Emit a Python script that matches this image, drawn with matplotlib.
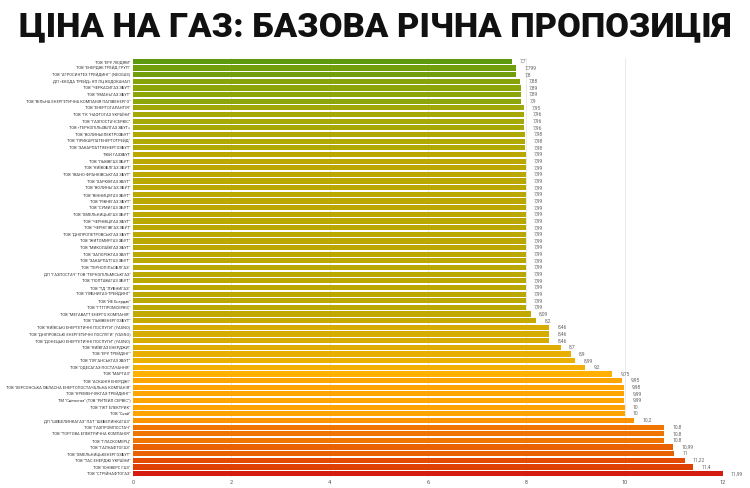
import matplotlib
matplotlib.use("Agg")
import matplotlib.pyplot as plt
from matplotlib.colors import LinearSegmentedColormap
import numpy as np

companies = [
    'ТОВ "ЕРУ ЛЮДЯМ"',
    'ТОВ "ЕНЕРДЖІ ТРЕЙД ГРУП"',
    'ТОВ "АГРОСИНТЕЗ ТРЕЙДИНГ" (NEOGAS)',
    'ДП «ЕКОДА ТРЕЙД» КП ПЦ ВОДОКАНАЛ',
    'ТОВ "ЧЕРКАСИГАЗ ЗБУТ"',
    'ТОВ "УМАНЬГАЗ ЗБУТ"',
    'ТОВ "ВІЛЬНА ЕНЕРГЕТИЧНА КОМПАНІЯ ПАЛІВЕНЕРГО"',
    'ТОВ "ЕНЕРГОГАРАНТІЯ"',
    'ТОВ "ГК "НАФТОГАЗ УКРАЇНИ"',
    'ТОВ "ГАЗПОСТАЧСЕРВІС"',
    'ТОВ «ТЕРНОПІЛЬОБЛГАЗ ЗБУТ»',
    'ТОВ "ВОЛИНЬЕЛЕКТРОЗБУТ"',
    'ТОВ "ПРИКАРПАТЕНЕРГОТРЕЙД"',
    'ТОВ "ЗАКАРПАТТЯЕНЕРГОЗБУТ"',
    'ТВІЙ ГАЗЗБУТ',
    'ТОВ "ЛЬВІВГАЗ ЗБУТ"',
    'ТОВ "КИЇВОБЛГАЗ ЗБУТ"',
    'ТОВ "ІВАНО-ФРАНКІВСЬКГАЗ ЗБУТ"',
    'ТОВ "ХАРКІВГАЗ ЗБУТ"',
    'ТОВ "ВОЛИНЬГАЗ ЗБУТ"',
    'ТОВ "ВІННИЦЯГАЗ ЗБУТ"',
    'ТОВ "РІВНЕГАЗ ЗБУТ"',
    'ТОВ "СУМИГАЗ ЗБУТ"',
    'ТОВ "ХМЕЛЬНИЦЬКГАЗ ЗБУТ"',
    'ТОВ "ЧЕРНІВЦІГАЗ ЗБУТ"',
    'ТОВ "ЧЕРНІГІВГАЗ ЗБУТ"',
    'ТОВ "ДНІПРОПЕТРОВСЬКГАЗ ЗБУТ"',
    'ТОВ "ЖИТОМИРГАЗ ЗБУТ"',
    'ТОВ "МИКОЛАЇВГАЗ ЗБУТ"',
    'ТОВ "ЗАПОРІЖГАЗ ЗБУТ"',
    'ТОВ "ЗАКАРПАТГАЗ ЗБУТ"',
    'ТОВ "ТЕРНОПІЛЬОБЛГАЗ"',
    'ДП "ГАЗПОСТАЧ" ТОВ "ТЕРНОПІЛЬМІСЬКГАЗ"',
    'ТОВ "ПОЛТАВАГАЗ ЗБУТ"',
    'ТОВ "ТД "ЛУБНИГАЗ"',
    'ТОВ "ЛУБНИГАЗ-ТРЕЙДИНГ"',
    'ТОВ "ЙЕ Енерджі"',
    'ТОВ "ГТТПРОМСЕРВІС"',
    'ТОВ "МЕГАВАТТ ЕНЕРГО КОМПАНІЯ"',
    'ТОВ "ЛЬВІВЕНЕРГОЗБУТ"',
    'ТОВ "КИЇВСЬКІ ЕНЕРГЕТИЧНІ ПОСЛУГИ" (YASNO)',
    'ТОВ "ДНІПРОВСЬКІ ЕНЕРГЕТИЧНІ ПОСЛУГИ" (YASNO)',
    'ТОВ "ДОНЕЦЬКІ ЕНЕРГЕТИЧНІ ПОСЛУГИ" (YASNO)',
    'ТОВ "КИЇВГАЗ ЕНЕРДЖИ"',
    'ТОВ "ЕРУ ТРЕЙДІНГ"',
    'ТОВ "ЛУГАНСЬКГАЗ ЗБУТ"',
    'ТОВ "ОДЕСАГАЗ-ПОСТАЧАННЯ"',
    'ТОВ "МАРГАЗ"',
    'ТОВ "АСКАНІЯ ЕНЕРДЖІ"',
    'ТОВ "ХЕРСОНСЬКА ОБЛАСНА ЕНЕРГОПОСТАЧАЛЬНА КОМПАНІЯ"',
    'ТОВ "КРЕМЕНЧУКГАЗ-ТРЕЙДИНГ"',
    'ТМ "Світлогаз" (ТОВ "РИТЕЙЛ СЕРВІС")',
    'ТОВ "ПКТ ЕЛЕКТРИК"',
    'ТОВ "Скай"',
    'ДП "ШЕБЕЛИНКАГАЗ" ПАТ "ШЕБЕЛИНКАГАЗ"',
    'ТОВ "ГАЗПРОМПОСТАЧ"',
    'ТОВ "ТОРГОВА ЕЛЕКТРИЧНА КОМПАНІЯ"',
    'ТОВ "ГЛАСКОМЕРЦ"',
    'ТОВ "ГАЛНАФТОГАЗ"',
    'ТОВ "ХМЕЛЬНИЦЬКЕНЕРГОЗБУТ"',
    'ТОВ "ТАС ЕНЕРДЖІ УКРАЇНИ"',
    'ТОВ "ЮНІВЕРС ГАЗ"',
    'ТОВ "СТРІЙНАФТОГАЗ"',
]

prices = [
    7.7, 7.799, 7.8, 7.88, 7.89, 7.89, 7.9, 7.95, 7.96, 7.96, 7.96,
    7.98, 7.98, 7.98,
    7.99, 7.99, 7.99, 7.99, 7.99, 7.99, 7.99, 7.99, 7.99, 7.99, 7.99, 7.99,
    7.99, 7.99, 7.99, 7.99, 7.99, 7.99, 7.99, 7.99, 7.99, 7.99, 7.99, 7.99,
    8.09, 8.2, 8.46, 8.46, 8.46, 8.7, 8.9, 8.99, 9.2, 9.75, 9.95, 9.98,
    9.99, 9.99, 10, 10, 10.2, 10.8, 10.8, 10.8, 10.99, 11, 11.22, 11.4, 11.99,
]

x_ticks = [0, 2, 4, 6, 8, 10, 12]

# колірна шкала за ціною (зелений -> оливковий -> жовтий -> помаранчевий -> червоний)
stops = [(7.7, "#5c990c"), (7.85, "#7fa30a"), (7.95, "#a5a805"), (7.99, "#bca800"),
         (8.46, "#d6ac00"), (9.2, "#f4b000"), (9.75, "#ffb000"), (10.0, "#ffa300"),
         (10.2, "#fc9400"), (10.8, "#f07400"), (11.22, "#e24c00"), (11.99, "#d41c10")]
vmin, vmax = stops[0][0], stops[-1][0]
cmap = LinearSegmentedColormap.from_list(
    "gas", [((v - vmin) / (vmax - vmin), c) for v, c in stops])

label_font = ["Liberation Sans Narrow", "Roboto", "DejaVu Sans"]

fig = plt.figure(figsize=(7.5, 4.88), dpi=100)
ax = fig.add_axes([0.1773, 0.0225, 0.7867, 0.8586])

y = np.arange(len(prices))
colors = [cmap((p - vmin) / (vmax - vmin)) for p in prices]
ax.barh(y, prices, height=0.78, color=colors, zorder=2)

for yi, p in zip(y, prices):
    ax.text(p + 0.17, yi, str(p).replace(".", ","), va="center", ha="left",
            fontsize=3.6, color="#666666", family=label_font)

ax.set_ylim(len(prices) - 0.5, -0.5)
ax.set_xlim(0, 12)
ax.set_yticks(y)
ax.set_yticklabels(companies, fontsize=2.9, family=label_font, color="#333333")
ax.set_xticks(x_ticks)
ax.set_xticklabels([str(t) for t in x_ticks], fontsize=4, color="#555555", family=label_font)
ax.tick_params(axis="both", length=0, pad=2)
ax.grid(axis="x", color="#e6e6e6", linewidth=0.6, zorder=0)
for s in ax.spines.values():
    s.set_visible(False)

fig.text(0.5, 0.944, "ЦІНА НА ГАЗ: БАЗОВА РІЧНА ПРОПОЗИЦІЯ", ha="center", va="center",
         fontsize=24.8, fontweight="heavy", color="#111111",
         family=["Liberation Sans Narrow", "Roboto", "DejaVu Sans"])

fig.savefig("out.png", dpi=100)
